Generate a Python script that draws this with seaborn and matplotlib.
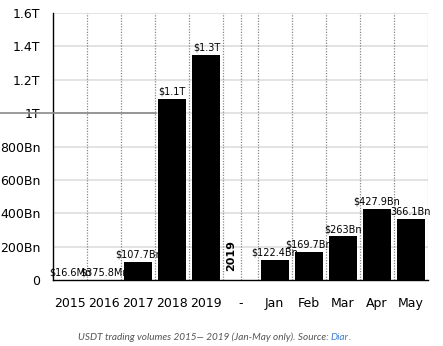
import numpy as np
import pandas as pd
import matplotlib
matplotlib.use("Agg")
import matplotlib.pyplot as plt
import seaborn as sns

categories = ["2015", "2016", "2017", "2018", "2019", "-", "Jan", "Feb", "Mar", "Apr", "May"]
volumes_bn = [0.0166, 0.3758, 107.7, 1085.0, 1349.1, np.nan, 122.4, 169.7, 263.0, 427.9, 366.1]
bar_labels = ["$16.6Mn", "$375.8Mn", "$107.7Bn", "$1.1T", "$1.3T", "",
              "$122.4Bn", "$169.7Bn", "$263Bn", "$427.9Bn", "366.1Bn"]
y_ticks = [0, 200, 400, 600, 800, 1000, 1200, 1400, 1600]
y_tick_labels = ["0", "200Bn", "400Bn", "600Bn", "800Bn", "1T", "1.2T", "1.4T", "1.6T"]

sns.set_style("white")
plt.rcParams["font.family"] = ["DejaVu Sans"]

df = pd.DataFrame({"period": categories, "volume": volumes_bn})

fig = plt.figure(figsize=(4.43, 3.46), dpi=100)
ax = fig.add_axes([53 / 443, 1 - 280 / 346, 375 / 443, 267 / 346])

sns.barplot(data=df, x="period", y="volume", order=categories, color="black",
            saturation=1, width=0.82, ax=ax, errorbar=None, zorder=3,
            edgecolor="black", linewidth=0)

ax.set_xlim(-0.5, 10.5)
ax.set_ylim(0, 1600)
ax.set_yticks(y_ticks)
ax.set_yticklabels(y_tick_labels)
ax.set_xlabel("")
ax.set_ylabel("")

# horizontal grid
for v in y_ticks[1:]:
    ax.axhline(v, color="#e0e0e0", lw=1.3, zorder=1)
# vertical dotted grid
vlines = [i + 0.5 for i in range(11)] + [5.0]
for xv in vlines:
    ax.axvline(xv, color="#888888", lw=0.9, ls=(0, (1, 1.2)), zorder=2)

for s in ["top", "right"]:
    ax.spines[s].set_visible(False)
for s in ["left", "bottom"]:
    ax.spines[s].set_color("black")
    ax.spines[s].set_linewidth(1.0)

ax.tick_params(axis="both", which="both", direction="out", length=5, width=1,
               color="black", labelsize=9, labelcolor="black")
ax.tick_params(axis="x", pad=7)
ax.tick_params(axis="y", pad=4)

# value labels above bars (placed from the drawn bar patches)
label_map = dict(zip(categories, bar_labels))
for patch in ax.patches:
    h = patch.get_height()
    if h is None or np.isnan(h):
        continue
    xc = patch.get_x() + patch.get_width() / 2
    idx = int(round(xc))
    ax.annotate(label_map[categories[idx]], (xc, h), xytext=(0, 1.5),
                textcoords="offset points", ha="center", va="bottom",
                fontsize=7, color="black", zorder=6)

# gray reference line at 1T extending to the left edge
ax.plot([-53 / 375, (156 - 53) / 375], [1000, 1000], transform=ax.get_yaxis_transform(),
        color="#8a8a8a", lw=1.2, clip_on=False, zorder=4)

ax.text(4.72, 55, "2019", rotation=90, fontsize=8, fontweight="bold",
        ha="center", va="bottom", color="black", zorder=5)

# caption
cap_font = dict(fontsize=7.2, style="italic", family=["Lato", "DejaVu Sans"], va="center", ha="left")
cap_y = 1 - 337 / 346
fig.canvas.draw()
t1 = fig.text(78 / 443, cap_y, "USDT trading volumes 2015\u2014 2019 (Jan-May only). Source: ",
              color="#555555", **cap_font)
fig.canvas.draw()
bb = t1.get_window_extent()
t2 = fig.text(bb.x1 / fig.bbox.width, cap_y, "Diar", color="#3b7dd8", **cap_font)
fig.canvas.draw()
bb2 = t2.get_window_extent()
fig.text(bb2.x1 / fig.bbox.width, cap_y, ".", color="#555555", **cap_font)

fig.savefig("out.png", dpi=100)
